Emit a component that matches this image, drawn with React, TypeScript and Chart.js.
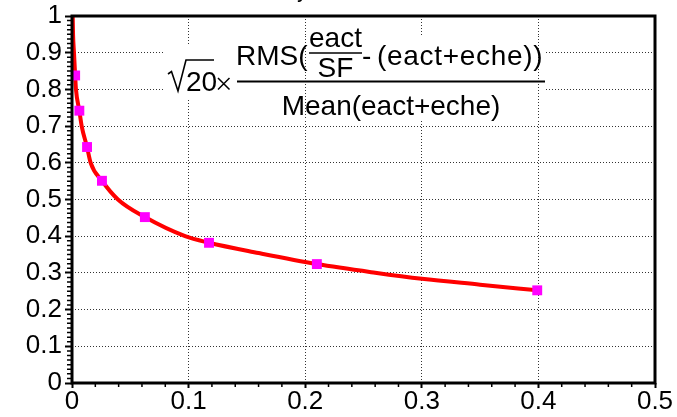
import { useEffect, useRef } from "react";
import { Chart, registerables } from "chart.js";
Chart.register(...registerables);

// Fitted curve
const curveX = [0.0006, 0.0009, 0.0017, 0.0027, 0.0034, 0.0063, 0.0083, 0.0129, 0.016, 0.0257, 0.0394, 0.0625, 0.097, 0.1175, 0.16, 0.21, 0.26, 0.3, 0.35, 0.399];
const curveY = [1.0, 0.95, 0.9, 0.838, 0.8, 0.742, 0.7, 0.643, 0.6, 0.551, 0.5, 0.452, 0.4, 0.382, 0.354, 0.324, 0.3005, 0.284, 0.268, 0.2525];

// Measured points (magenta squares)
const pointX = [0.0027, 0.0063, 0.0129, 0.0257, 0.0625, 0.1175, 0.21, 0.399];
const pointY = [0.838, 0.742, 0.643, 0.551, 0.452, 0.382, 0.324, 0.2525];

// Axis ticks
const xTickValues = [0, 0.1, 0.2, 0.3, 0.4, 0.5];
const yTickValues = [0, 0.1, 0.2, 0.3, 0.4, 0.5, 0.6, 0.7, 0.8, 0.9, 1];
const xMinorStep = 0.02;
const yMinorStep = 0.0125;

// Texts
const titleText = "Coefficient of Variation vs Relative Density";
const sqrtArg = "20";
const numLeft = "RMS(";
const numFracTop = "eact";
const numFracBottom = "SF";
const numRight = "(eact+eche))";
const denominator = "Mean(eact+eche)";

const FONT = '"Liberation Sans", Arial, Helvetica, sans-serif';
const GRID = "#333";

export default function App() {
  const ref = useRef<HTMLCanvasElement>(null);

  useEffect(() => {
    const canvas = ref.current!;
    const fmt = (v: number) => String(Math.round(v * 10) / 10);

    const formulaPlugin = {
      id: "formula",
      beforeDatasetsDraw(chart: any) {
        const ctx = chart.ctx as CanvasRenderingContext2D;
        const xs = chart.scales.x;
        ctx.save();
        ctx.fillStyle = "#fff";
        ctx.fillRect(163, 45, 73, 55);
        ctx.fillRect(236, 36, 310, 84);
        ctx.strokeStyle = GRID;
        ctx.lineWidth = 1;
        ctx.setLineDash([1, 2]);
        [0.2, 0.4].forEach((v) => {
          const px = Math.round(xs.getPixelForValue(v)) + 0.5;
          ctx.beginPath();
          ctx.moveTo(px, 36);
          ctx.lineTo(px, 120);
          ctx.stroke();
        });
        ctx.setLineDash([]);

        ctx.strokeStyle = "#000";
        ctx.fillStyle = "#000";
        // sqrt sign
        ctx.lineWidth = 1.6;
        ctx.beginPath();
        ctx.moveTo(168, 74);
        ctx.lineTo(171.5, 71.5);
        ctx.lineTo(178, 91);
        ctx.lineTo(186, 60);
        ctx.lineTo(214, 60);
        ctx.stroke();
        ctx.font = `28px ${FONT}`;
        ctx.textBaseline = "alphabetic";
        ctx.textAlign = "left";
        ctx.fillText(sqrtArg, 186, 91);
        // times sign
        ctx.lineWidth = 1.5;
        ctx.beginPath();
        ctx.moveTo(218, 78);
        ctx.lineTo(229.5, 89.5);
        ctx.moveTo(218, 89.5);
        ctx.lineTo(229.5, 78);
        ctx.stroke();
        // main fraction bar
        ctx.lineWidth = 2;
        ctx.beginPath();
        ctx.moveTo(237, 81.5);
        ctx.lineTo(545, 81.5);
        ctx.stroke();
        // numerator
        ctx.fillText(numLeft, 236, 65);
        ctx.textAlign = "center";
        ctx.fillText(numFracTop, 335.5, 46.5);
        ctx.fillText(numFracBottom, 335.5, 76.5);
        ctx.lineWidth = 1.6;
        ctx.beginPath();
        ctx.moveTo(309, 53);
        ctx.lineTo(362, 53);
        ctx.stroke();
        ctx.textAlign = "left";
        ctx.fillText("-", 362, 65);
        (ctx as any).letterSpacing = "0.7px";
        ctx.fillText(numRight, 377, 65);
        (ctx as any).letterSpacing = "0px";
        // denominator
        ctx.textAlign = "center";
        ctx.fillText(denominator, 391, 115);
        ctx.restore();
      },
      afterDraw(chart: any) {
        const ctx = chart.ctx as CanvasRenderingContext2D;
        const a = chart.chartArea;
        const xs = chart.scales.x;
        const ys = chart.scales.y;
        ctx.save();
        // frame
        ctx.strokeStyle = "#000";
        ctx.lineWidth = 3;
        ctx.strokeRect(a.left, a.top, a.right - a.left, a.bottom - a.top);
        // minor ticks
        ctx.lineWidth = 1.5;
        ctx.beginPath();
        for (let i = 1; i * yMinorStep < 1 - 1e-9; i++) {
          const v = i * yMinorStep;
          if (Math.abs(v * 10 - Math.round(v * 10)) < 1e-6) continue;
          const py = ys.getPixelForValue(v);
          ctx.moveTo(a.left - 5, py);
          ctx.lineTo(a.left, py);
        }
        for (let i = 1; i * xMinorStep < 0.5 - 1e-9; i++) {
          const v = i * xMinorStep;
          if (Math.abs(v * 10 - Math.round(v * 10)) < 1e-6) continue;
          const px = xs.getPixelForValue(v);
          ctx.moveTo(px, a.bottom);
          ctx.lineTo(px, a.bottom + 4);
        }
        ctx.stroke();
        // title (cut off at top of the picture)
        ctx.fillStyle = "#000";
        ctx.font = `bold 16px ${FONT}`;
        ctx.textAlign = "right";
        ctx.textBaseline = "alphabetic";
        ctx.fillText(titleText, 306, -1);
        ctx.restore();
      },
    };

    const chart = new Chart(canvas, {
      type: "line",
      data: {
        datasets: [
          {
            label: "points",
            data: pointX.map((x, i) => ({ x, y: pointY[i] })),
            showLine: false,
            pointStyle: "rect",
            pointRadius: 7,
            pointBackgroundColor: "#ff00ff",
            pointBorderColor: "#ff00ff",
            pointBorderWidth: 0,
            order: 0,
          },
          {
            label: "fit",
            data: curveX.map((x, i) => ({ x, y: curveY[i] })),
            borderColor: "#ff0000",
            borderWidth: 4,
            pointRadius: 0,
            cubicInterpolationMode: "monotone",
            fill: false,
            order: 1,
          },
        ],
      },
      options: {
        animation: false,
        responsive: true,
        maintainAspectRatio: false,
        layout: { padding: { top: 12, right: 22, left: 0, bottom: 0 } },
        plugins: { legend: { display: false }, tooltip: { enabled: false }, title: { display: false } },
        scales: {
          x: {
            type: "linear",
            min: 0,
            max: 0.5,
            afterFit: (s: any) => { s.height = 34; },
            afterBuildTicks: (s: any) => { s.ticks = xTickValues.map((v) => ({ value: v })); },
            ticks: {
              callback: (v: any) => fmt(Number(v)),
              color: "#000",
              font: { family: FONT, size: 26, lineHeight: 1 },
              padding: 1,
              maxRotation: 0,
              autoSkip: false,
            },
            grid: { color: GRID, lineWidth: 1, drawTicks: true, tickLength: 5, tickColor: "#000", tickWidth: 2 },
            border: { display: false, dash: [1, 2] },
          },
          y: {
            type: "linear",
            min: 0,
            max: 1,
            afterFit: (s: any) => { s.width = 72; },
            afterBuildTicks: (s: any) => { s.ticks = yTickValues.map((v) => ({ value: v })); },
            ticks: {
              callback: (v: any) => fmt(Number(v)),
              color: "#000",
              font: { family: FONT, size: 26, lineHeight: 1 },
              padding: 3,
              autoSkip: false,
            },
            grid: { color: GRID, lineWidth: 1, drawTicks: true, tickLength: 7, tickColor: "#000", tickWidth: 2 },
            border: { display: false, dash: [1, 2] },
          },
        },
      },
      plugins: [formulaPlugin],
    } as any);

    return () => chart.destroy();
  }, []);

  return (
    <div style={{ position: "fixed", left: 0, top: 0, width: 677, height: 417, background: "#fff" }}>
      <canvas ref={ref} />
    </div>
  );
}
